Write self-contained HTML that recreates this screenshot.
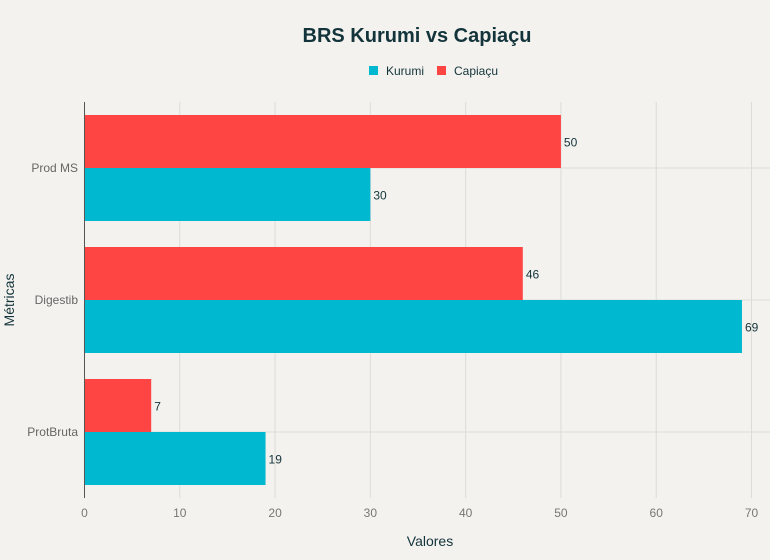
<!DOCTYPE html>
<html><head><meta charset="utf-8"><style>
body{margin:0;background:#f3f2ee;font-family:"Liberation Sans",sans-serif;}
</style></head><body>
<svg width="770" height="555" xmlns="http://www.w3.org/2000/svg">
<rect width="770" height="555" fill="#f3f2ee"/>
<text x="417" y="42" text-anchor="middle" font-size="20" font-weight="bold" fill="#13343b">BRS Kurumi vs Capiaçu</text>
<g>
<rect x="369" y="66" width="9" height="9" fill="#00b8cf"/>
<text x="386" y="75" font-size="12" fill="#13343b">Kurumi</text>
<rect x="437" y="66" width="9" height="9" fill="#ff4444"/>
<text x="454" y="75" font-size="12" fill="#13343b">Capiaçu</text>
</g>
<g id="plot"></g>
<text x="430" y="546" text-anchor="middle" font-size="14" fill="#13343b">Valores</text>
<text transform="translate(14,300) rotate(-90)" text-anchor="middle" font-size="14" fill="#13343b">Métricas</text>
</svg>
<script>
const categories=["Prod MS","Digestib","ProtBruta"];
const kurumi=[30,69,19];
const capiacu=[50,46,7];
const ticks=[0,10,20,30,40,50,60,70];
const NS="http://www.w3.org/2000/svg";
const plotG=document.getElementById("plot");
const x0=84.5,xr=751.5,xmax=70,plotTop=102,plotBottom=498;
const xs=v=>x0+(xr-x0)*v/xmax;
const band=(plotBottom-plotTop)/categories.length;
const yc=i=>plotTop+band*(i+0.5);
const bh=53;
function mk(t,a,txt){const e=document.createElementNS(NS,t);for(const k in a)e.setAttribute(k,a[k]);if(txt!=null)e.textContent=txt;plotG.appendChild(e);return e;}
ticks.forEach(t=>{
 const l=mk("line",{x1:xs(t),x2:xs(t),y1:plotTop,y2:plotBottom,stroke:"#dcdcd6","stroke-width":1});
 
 
 const tx=mk("text",{x:xs(t),y:517,"text-anchor":"middle","font-size":12,fill:"#777"},t);
 
 
});
categories.forEach((c,i)=>{
 const y=yc(i);
 const gl=mk("line",{x1:x0,x2:770,y1:y,y2:y,stroke:"#dcdcd6","stroke-width":1});
 
 
 const lab=mk("text",{x:78,y:y+4,"text-anchor":"end","font-size":12,fill:"#666"},c);
 
 
 const r1=mk("rect",{x:x0,y:y-bh,width:xs(capiacu[i])-x0,height:bh,fill:"#ff4444"});
 
 
 const t1=mk("text",{x:xs(capiacu[i])+3,y:y-bh/2+5,"font-size":12,fill:"#13343b"},capiacu[i]);
 
 
 const r2=mk("rect",{x:x0,y:y,width:xs(kurumi[i])-x0,height:bh,fill:"#00b8cf"});
 
 
 const t2=mk("text",{x:xs(kurumi[i])+3,y:y+bh/2+5,"font-size":12,fill:"#13343b"},kurumi[i]);
 
 
});
const ax=mk("line",{x1:x0,x2:x0,y1:plotTop,y2:plotBottom,stroke:"#555","stroke-width":1});


</script>
</body></html>
